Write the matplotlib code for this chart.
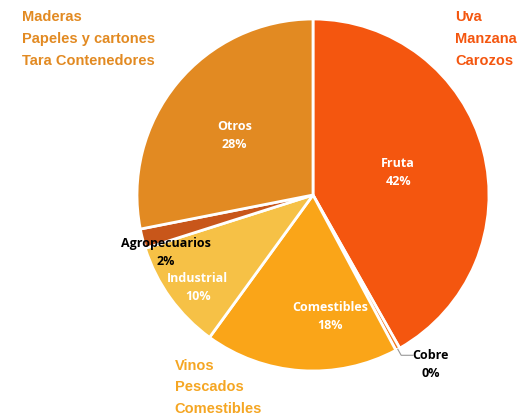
import numpy as np
import matplotlib.pyplot as plt

sectores = ['Fruta', 'Cobre', 'Comestibles', 'Industrial', 'Agropecuarios', 'Otros']
valores = [41.8, 0.4, 17.8, 10.1, 1.8, 28.1]
etiquetas_pct = ['42%', '0%', '18%', '10%', '2%', '28%']
colores = ['#F4560F', '#F27A20', '#FAA518', '#F6C146', '#C8561A', '#E28A22']
color_texto = ['white', 'black', 'white', 'white', 'black', 'white']
radio_texto = [0.5, 1.17, 0.7, 0.84, 0.9, 0.56]
giro_texto = [0, 6, 12, 3, 7, 2]  # degrees nudge of each label

notas = {
    'otros': 'Maderas\nPapeles y cartones\nTara Contenedores',
    'fruta': 'Uva\nManzana\nCarozos',
    'comestibles': 'Vinos\nPescados\nComestibles',
}

fig = plt.figure(figsize=(5.17, 4.17), dpi=100)
ax = fig.add_axes([0, 0, 1, 1])

wedges, _ = ax.pie(valores, colors=colores, startangle=90, counterclock=False,
                   radius=1.0, wedgeprops=dict(edgecolor='white', linewidth=2))

# pie center at (313, 195) px from top-left, radius 176 px
R = 176.0
ax.set_xlim(-313 / R, (517 - 313) / R)
ax.set_ylim(-222 / R, 195 / R)
ax.set_aspect('equal')
ax.axis('off')

for w, nombre, pct, c, r, g in zip(wedges, sectores, etiquetas_pct, color_texto, radio_texto, giro_texto):
    mid = np.deg2rad((w.theta1 + w.theta2) / 2)
    ang = mid + np.deg2rad(g)
    x, y = r * np.cos(ang), r * np.sin(ang)
    ax.text(x, y, nombre + '\n' + pct, ha='center', va='center', color=c,
            fontsize=9, fontweight='bold', family='Open Sans', linespacing=1.5)
    if nombre == 'Cobre':
        ax.plot([1.0 * np.cos(mid), 1.04 * np.cos(mid), x - 0.1],
                [1.0 * np.sin(mid), y + 0.05, y + 0.05],
                color='#999999', lw=0.8)

ax.text(0.043, 0.975, notas['otros'], transform=ax.transAxes, ha='left', va='top',
        color='#E28A22', fontsize=10.5, fontweight='bold', family='Liberation Sans', linespacing=1.7)
ax.text(0.88, 0.975, notas['fruta'], transform=ax.transAxes, ha='left', va='top',
        color='#F4560F', fontsize=10.5, fontweight='bold', family='Liberation Sans', linespacing=1.7)
ax.text(0.338, 0.14, notas['comestibles'], transform=ax.transAxes, ha='left', va='top',
        color='#F5A623', fontsize=10.5, fontweight='bold', family='Liberation Sans', linespacing=1.7)

fig.savefig('out.png', dpi=100)
